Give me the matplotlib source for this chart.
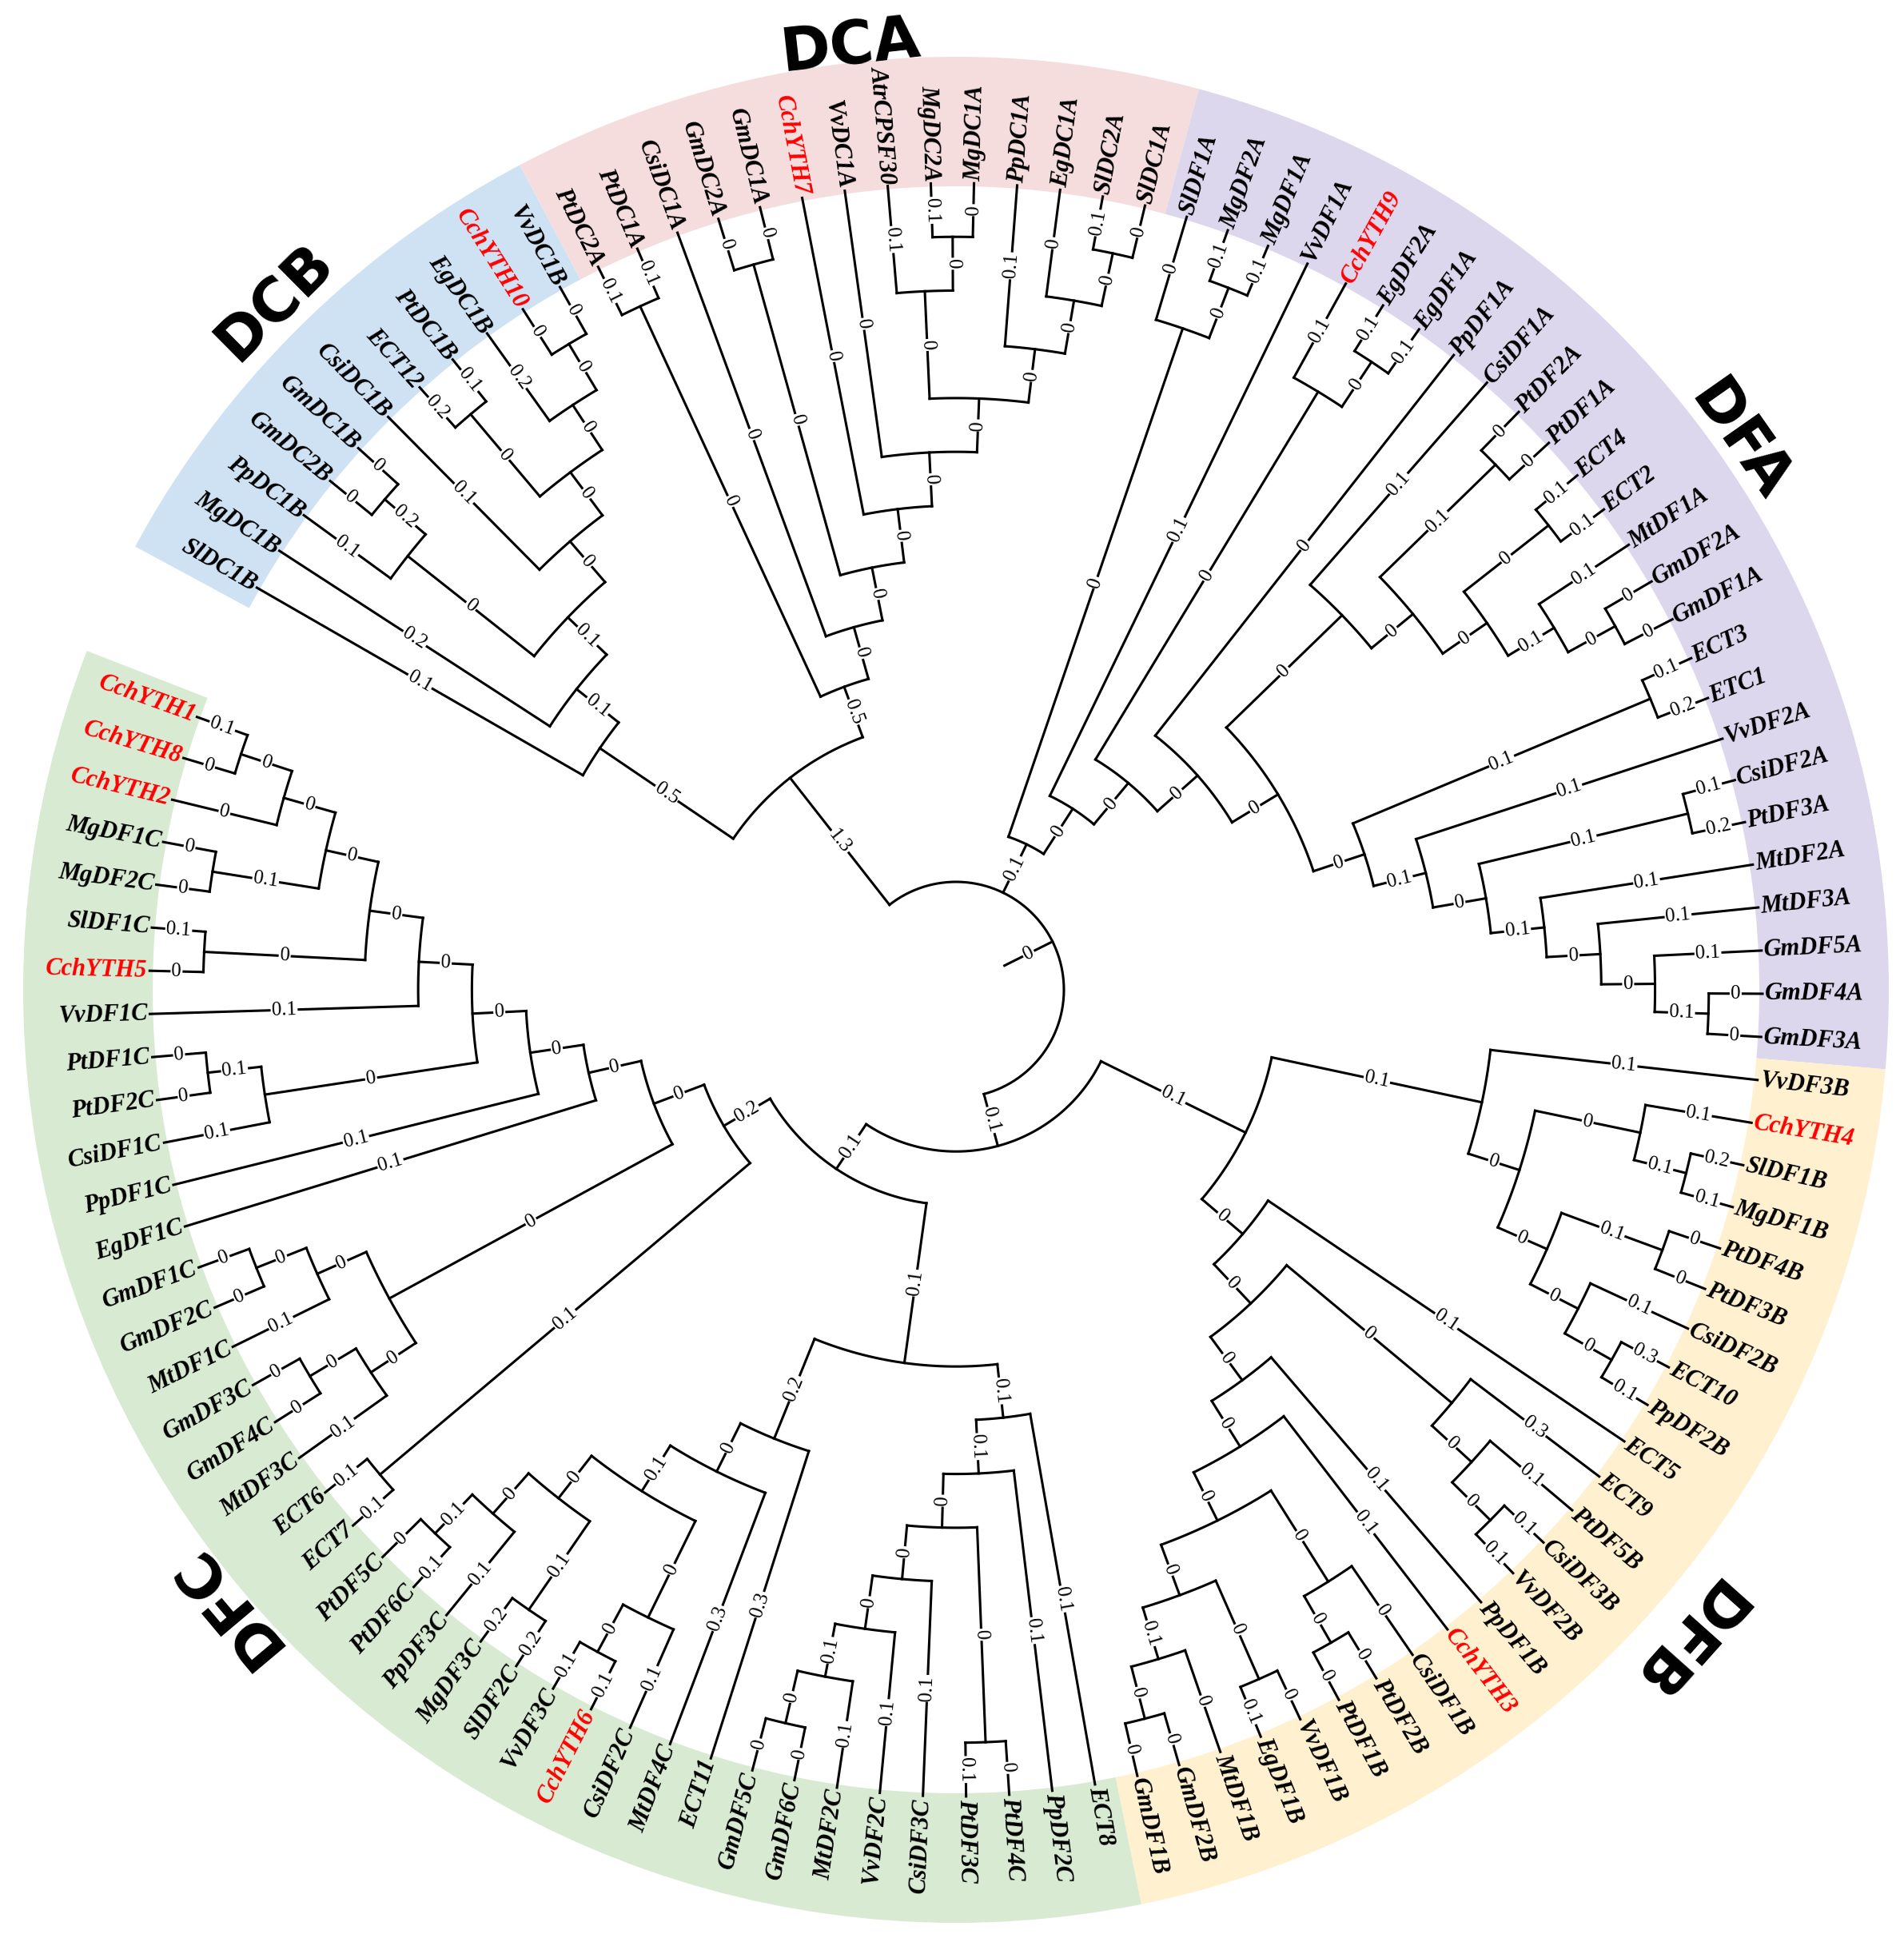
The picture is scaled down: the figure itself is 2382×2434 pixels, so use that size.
import numpy as np
import matplotlib
matplotlib.use("Agg")
import matplotlib.pyplot as plt
from matplotlib.patches import Wedge

# ======== tree data (newick, leaves clockwise; ":x" is the value printed on the branch)
DCB = ("(SlDC1B:0.1,(MgDC1B:0.2,((PpDC1B:0.1,(GmDC2B:0,GmDC1B:0):0.2):0,(CsiDC1B:0.1,((ECT12:0.2,PtDC1B:0.1):0,"
       "(EgDC1B:0.2,(CchYTH10:0,VvDC1B:0):0):0):0):0):0.1):0.1)")
DCA = ("((PtDC2A:0.1,PtDC1A:0.1):0,(CsiDC1A:0,((GmDC2A:0,GmDC1A:0):0,(CchYTH7:0,(VvDC1A:0,((AtrCPSF30:0.1,"
       "(MgDC2A:0.1,MgDC1A:0):0):0,(PpDC1A:0.1,(EgDC1A:0,(SlDC2A:0.1,SlDC1A:0):0):0):0):0):0):0):0):0)")

DFA_1 = "(SlDF1A:0,(MgDF2A:0.1,MgDF1A:0.1):0)"
DFA_2 = "(CchYTH9:0.1,(EgDF2A:0.1,EgDF1A:0.1):0)"
DFA_3 = ("(CsiDF1A:0.1,((PtDF2A:0,PtDF1A:0):0.1,((ECT4:0.1,ECT2:0.1):0,(MtDF1A:0.1,"
         "(GmDF2A:0,GmDF1A:0):0):0.1):0):0)")
DFA_4 = ("((ECT3:0.1,ETC1:0.2):0.1,(VvDF2A:0.1,((CsiDF2A:0.1,PtDF3A:0.2):0.1,(MtDF2A:0.1,(MtDF3A:0.1,"
         "(GmDF5A:0.1,(GmDF4A:0,GmDF3A:0):0.1):0):0):0.1):0):0.1)")
DFA = f"({DFA_1}:0,(VvDF1A:0.1,({DFA_2}:0,(PpDF1A:0,({DFA_3}:0,{DFA_4}:0):0):0):0):0)"

DFB_1 = ("(VvDF3B:0.1,((CchYTH4:0.1,(SlDF1B:0.2,MgDF1B:0.1):0.1):0,((PtDF4B:0,PtDF3B:0):0.1,"
         "(CsiDF2B:0.1,(ECT10:0.3,PpDF2B:0.1):0):0):0):0)")
DFB_2 = "(ECT9:0.3,(PtDF5B:0.1,(CsiDF3B:0.1,VvDF2B:0.1):0):0)"
DFB_3 = ("((CsiDF1B:0,(PtDF2B:0,PtDF1B:0):0):0,((VvDF1B:0,EgDF1B:0.1):0,(MtDF1B:0,"
         "(GmDF2B:0,GmDF1B:0):0):0.1):0)")
DFB = f"({DFB_1}:0.1,(ECT5:0.1,({DFB_2}:0,(PpDF1B:0.1,(CchYTH3:0.1,{DFB_3}:0):0):0):0):0)"

DFC_1 = ("(ECT8:0.1,(PpDF2C:0.1,((PtDF4C:0,PtDF3C:0.1):0,(CsiDF3C:0.1,(VvDF2C:0.1,(MtDF2C:0.1,"
         "(GmDF6C:0,GmDF5C:0):0):0.1):0):0):0):0.1)")
DFC_2 = ("(ECT11:0.3,(MtDF4C:0.3,((CsiDF2C:0.1,(CchYTH6:0.1,VvDF3C:0.1):0):0,((SlDF2C:0.2,MgDF3C:0.2):0.1,"
         "(PpDF3C:0.1,(PtDF6C:0.1,PtDF5C:0):0.1):0):0):0.1):0)")
DFC_3 = "((MtDF3C:0.1,(GmDF4C:0,GmDF3C:0):0):0,(MtDF1C:0.1,(GmDF2C:0,GmDF1C:0):0):0)"
DFC_4 = ("((CsiDF1C:0.1,(PtDF2C:0,PtDF1C:0):0.1):0,(VvDF1C:0.1,((CchYTH5:0,SlDF1C:0.1):0,((MgDF2C:0,MgDF1C:0):0.1,"
         "(CchYTH2:0,(CchYTH8:0,CchYTH1:0.1):0):0):0):0):0)")
DFC_UP = f"((ECT7:0.1,ECT6:0.1):0.1,({DFC_3}:0,(EgDF1C:0.1,(PpDF1C:0.1,{DFC_4}:0):0):0):0)"
DFC = f"(({DFC_1}:0.1,{DFC_2}:0.2):0.1,{DFC_UP}:0.2)"

TREE = f"(({DCB}:0.5,{DCA}:0.5):1.3,{DFA}:0.1,({DFB}:0.1,{DFC}:0.1):0.1):0"

GROUPS = ["DCB", "DCA", "DFA", "DFB", "DFC"]
GROUP_SIZE = [11, 14, 26, 24, 40]
GROUP_COLORS = ["#cfe2f3", "#f5dddd", "#dcd7ec", "#fff1cf", "#d9ead3"]
GROUP_TITLE_R = [1210, 1186, 1196, 1218, 1194]
RED = ["CchYTH%d" % k for k in range(1, 11)]

# ======== layout
W, H = 2382, 2434
CX, CY = 1196, H - 1238
R_ROOT = 135
R_TIP = 1009
STEP = (R_TIP - R_ROOT) / 13
A0, DA = 150.1, 3.069
BAND_IN, BAND_OUT = 1005, 1167


def parse(s):
    pos = 0

    def node():
        nonlocal pos
        kids = []
        if s[pos] == "(":
            pos += 1
            while True:
                kids.append(node())
                ch = s[pos]
                pos += 1
                if ch == ")":
                    break
        start = pos
        while pos < len(s) and s[pos] not in ":,()":
            pos += 1
        name = s[start:pos]
        lab = None
        if pos < len(s) and s[pos] == ":":
            pos += 1
            start = pos
            while pos < len(s) and s[pos] not in ",()":
                pos += 1
            lab = s[start:pos]
        return {"name": name, "lab": lab, "kids": kids}

    return node()


leaves = []


def layout(n):
    if not n["kids"]:
        n["a"] = A0 - len(leaves) * DA
        n["h"] = 0
        leaves.append(n)
    else:
        for c in n["kids"]:
            layout(c)
        n["h"] = 1 + max(c["h"] for c in n["kids"])
        n["a"] = (n["kids"][0]["a"] + n["kids"][-1]["a"]) / 2
    n["r"] = R_TIP - STEP * n["h"]


def pol(r, a):
    t = np.radians(a)
    return CX + r * np.cos(t), CY + r * np.sin(t)


def upright(a):
    a = (a + 180) % 360 - 180
    if -90 < a <= 90:
        return a, "left"
    return (a - 180 if a > 0 else a + 180), "right"


root = parse(TREE)
layout(root)

fig = plt.figure(figsize=(W / 100, H / 100), dpi=100)
ax = fig.add_axes([0, 0, 1, 1])
ax.set_xlim(0, W)
ax.set_ylim(0, H)
ax.axis("off")

LW = 2.2
serif = "Liberation Serif"


def branch_label(txt, r, a):
    rot, _ = upright(a)
    x, y = pol(r, a)
    ax.text(x, y, txt, rotation=rot, rotation_mode="anchor", ha="center", va="center",
            fontsize=18, family=serif, zorder=4,
            bbox=dict(boxstyle="square,pad=0.05", fc="white", ec="none"))


def draw(n):
    kids = n["kids"]
    if not kids:
        return
    t = np.linspace(kids[0]["a"], kids[-1]["a"], 80)
    x, y = pol(n["r"], t)
    ax.plot(x, y, color="black", lw=LW, solid_capstyle="projecting", zorder=2)
    for c in kids:
        x, y = pol(np.array([n["r"], c["r"]]), c["a"])
        ax.plot(x, y, color="black", lw=LW, solid_capstyle="projecting", zorder=2)
        branch_label(c["lab"], (n["r"] + c["r"]) / 2, c["a"])
        draw(c)


# coloured bands behind the leaf labels, with the group titles
i0 = 0
for name, size, col, tr in zip(GROUPS, GROUP_SIZE, GROUP_COLORS, GROUP_TITLE_R):
    a_first = leaves[i0]["a"]
    a_last = leaves[i0 + size - 1]["a"]
    ax.add_patch(Wedge((CX, CY), BAND_OUT, a_last - DA / 2, a_first + DA / 2,
                       width=BAND_OUT - BAND_IN, fc=col, ec="none", zorder=0))
    am = (a_first + a_last) / 2
    x, y = pol(tr, am)
    ax.text(x, y, name, rotation=am - 90, rotation_mode="anchor", ha="center", va="center",
            fontsize=54, fontweight="heavy", family="DejaVu Sans", zorder=5)
    i0 += size

draw(root)

# root stub
x, y = pol(np.array([root["r"], root["r"] - STEP]), root["a"])
ax.plot(x, y, color="black", lw=LW, zorder=2)
branch_label(root["lab"], root["r"] - STEP / 2, root["a"])

for lf in leaves:
    rot, ha = upright(lf["a"])
    x, y = pol(R_TIP + 3, lf["a"])
    ax.text(x, y, lf["name"], rotation=rot, rotation_mode="anchor", ha=ha, va="center",
            fontsize=22, fontweight="bold", fontstyle="italic", family=serif,
            color="red" if lf["name"] in RED else "black", zorder=4)

fig.savefig("out.png", dpi=100, facecolor="white")
